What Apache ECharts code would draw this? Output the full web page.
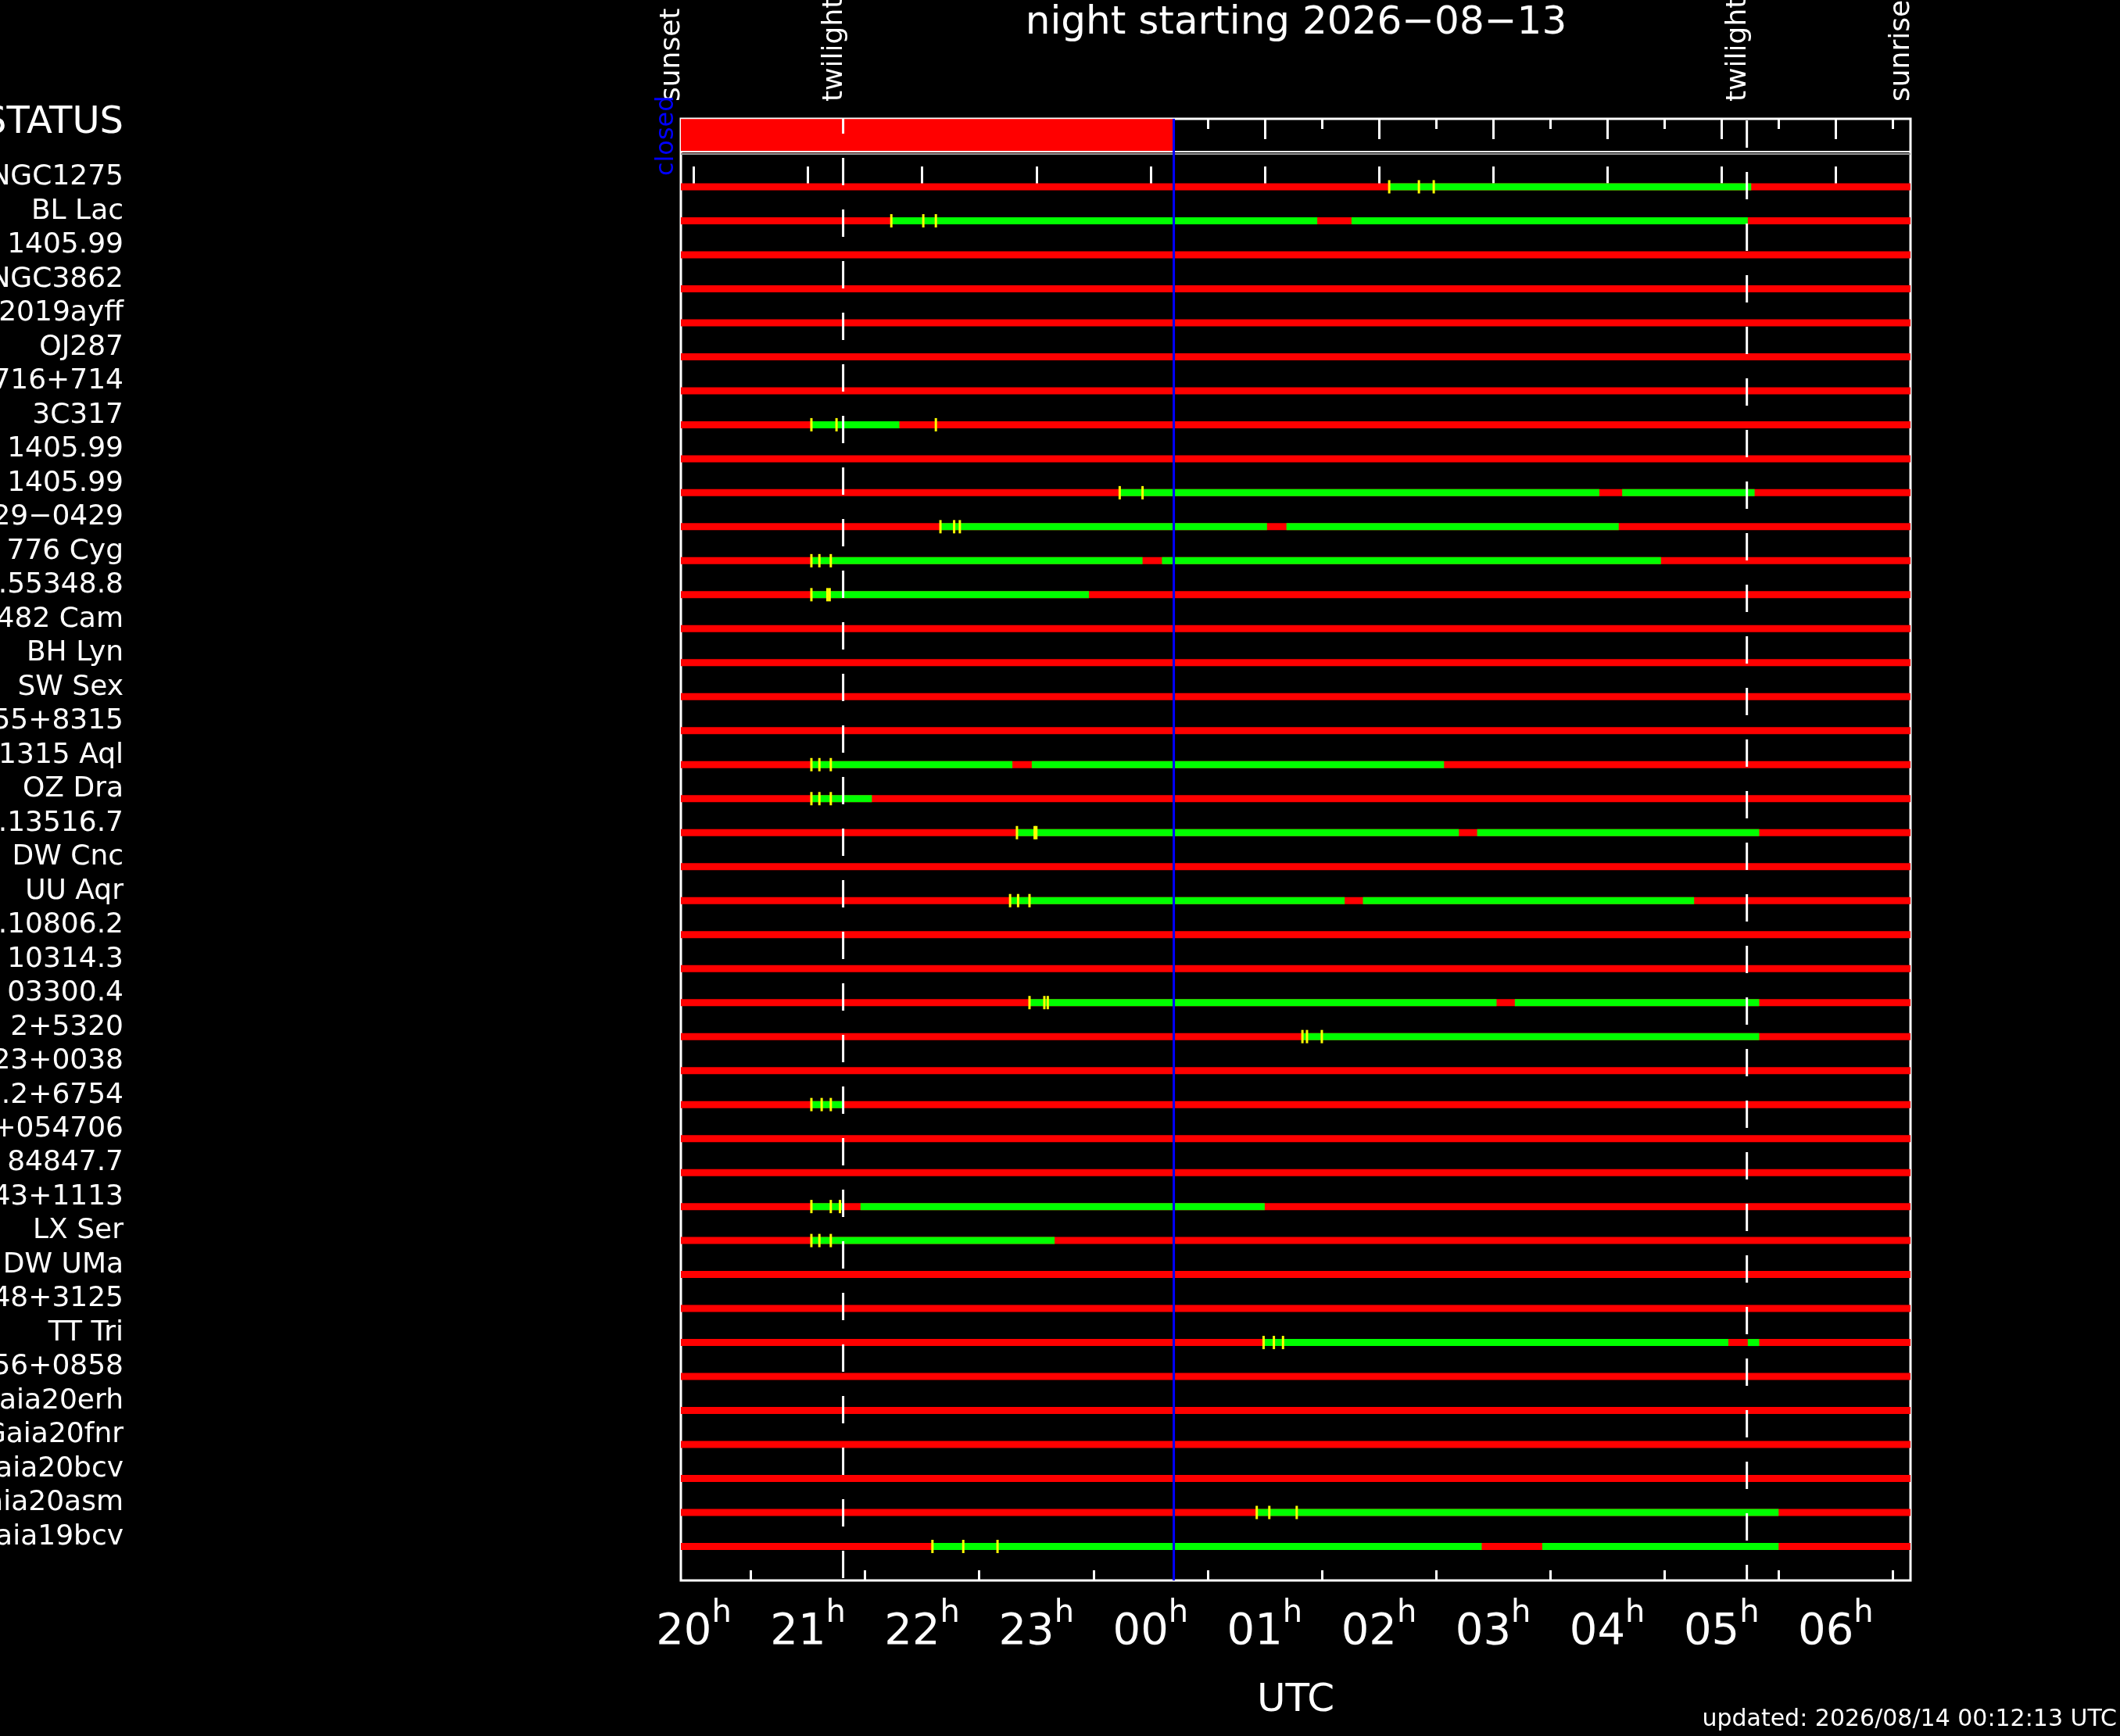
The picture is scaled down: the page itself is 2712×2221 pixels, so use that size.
<!DOCTYPE html>
<html>
<head>
<meta charset="utf-8">
<title>night starting 2026-08-13</title>
<script src="https://cdn.jsdelivr.net/npm/echarts@6/dist/echarts.min.js"></script>
<style>
  html, body { margin: 0; padding: 0; background: #000; }
  #main { width: 2712px; height: 2221px; }
</style>
</head>
<body>
<div id="main"></div>
<script>
var FONT = 'DejaVu Sans';

// targets, top to bottom (names cut by the left edge as in the original)
var targets = [
  'NGC1275', 'BL Lac', '1405.99', 'NGC3862', '2019ayff', 'OJ287', '716+714',
  '3C317', '1405.99', '1405.99', '29\u22120429', '776 Cyg', '.55348.8', '482 Cam',
  'BH Lyn', 'SW Sex', '55+8315', '1315 Aql', 'OZ Dra', '.13516.7', 'DW Cnc',
  'UU Aqr', '.10806.2', '10314.3', '03300.4', '2+5320', '23+0038', '.2+6754',
  '+054706', '84847.7', '43+1113', 'LX Ser', 'DW UMa', '48+3125', 'TT Tri',
  '56+0858', 'Gaia20erh', 'Gaia20fnr', 'Gaia20bcv', 'Gaia20asm', 'Gaia19bcv'
];

// observable windows (green), hours UTC, after midnight written as 24+
var visible = [
  [[26.09, 29.26]],
  [[21.73, 25.46], [25.76, 29.23]],
  [], [], [], [], [],
  [[21.03, 21.80]],
  [],
  [[23.73, 27.93], [28.13, 29.29]],
  [[22.16, 25.02], [25.19, 28.10]],
  [[21.03, 23.93], [24.10, 28.47]],
  [[21.03, 23.46]],
  [], [], [], [],
  [[21.03, 22.79], [22.96, 26.57]],
  [[21.03, 21.56]],
  [[22.83, 26.70], [26.86, 29.33]],
  [],
  [[22.77, 25.70], [25.86, 28.76]],
  [], [],
  [[22.94, 27.03], [27.19, 29.33]],
  [[25.33, 29.33]],
  [],
  [[21.03, 21.31]],
  [], [],
  [[21.03, 21.31], [21.46, 25.00]],
  [[21.03, 23.16]],
  [], [],
  [[24.99, 29.06], [29.23, 29.33]],
  [], [], [], [],
  [[24.93, 29.50]],
  [[22.09, 26.90], [27.43, 29.50]]
];

// yellow marks
var marks = [
  [26.09, 26.35, 26.48],
  [21.73, 22.01, 22.12],
  [], [], [], [], [],
  [21.03, 21.25, 22.12],
  [],
  [23.73, 23.93],
  [22.16, 22.28, 22.33],
  [21.03, 21.10, 21.20],
  [21.03, 21.17, 21.19],
  [], [], [], [],
  [21.03, 21.10, 21.20],
  [21.03, 21.10, 21.20],
  [22.83, 22.985, 23.00],
  [],
  [22.77, 22.84, 22.94],
  [], [],
  [22.94, 23.07, 23.10],
  [25.33, 25.37, 25.50],
  [],
  [21.03, 21.12, 21.20],
  [], [],
  [21.03, 21.20, 21.28],
  [21.03, 21.10, 21.20],
  [], [],
  [24.99, 25.08, 25.16],
  [], [], [], [],
  [24.93, 25.04, 25.28],
  [22.09, 22.36, 22.66]
];

var hourTicks = [20, 21, 22, 23, 24, 25, 26, 27, 28, 29, 30];
var hourLabels = ['20', '21', '22', '23', '00', '01', '02', '03', '04', '05', '06'];
var halfTicks = [20.5, 21.5, 22.5, 23.5, 24.5, 25.5, 26.5, 27.5, 28.5, 29.5, 30.5];

var sunset = 19.887, eveTwilight = 21.308, mornTwilight = 29.222, sunrise = 30.655;
var now = 24 + 12 / 60 + 13 / 3600;
var eventNames = ['sunset', 'twilight', 'twilight', 'sunrise'];
var eventTimes = [sunset, eveTwilight, mornTwilight, sunrise];
var statusText = ['closed'];
var statusStart = [sunset];
var statusEnd = [now];

var chart = echarts.init(document.getElementById('main'));

function barItem(params, api) {
  var a = api.coord([api.value(0), api.value(2)]);
  var b = api.coord([api.value(1), api.value(2)]);
  var h = api.value(3);
  return {
    type: 'rect',
    shape: { x: a[0], y: a[1] - h / 2, width: b[0] - a[0], height: h },
    style: { fill: api.visual('color') }
  };
}

var nightData = targets.map(function (t, i) { return [sunset, sunrise, i, 9]; });
var greenData = [];
visible.forEach(function (segs, i) {
  segs.forEach(function (s) { greenData.push([s[0], s[1], i, 9]); });
});
var markData = [];
marks.forEach(function (ms, i) {
  ms.forEach(function (m) { markData.push([m, i]); });
});

function xAxisBase(pos, ticks, len) {
  return {
    type: 'value', min: sunset, max: sunrise, position: pos,
    axisLine: { show: false },
    splitLine: { show: false },
    axisTick: { show: true, inside: true, length: len, customValues: ticks,
      lineStyle: { color: '#fff', width: 3 } },
    axisLabel: { show: false }
  };
}

var bottomHours = xAxisBase('bottom', hourTicks, 26);
bottomHours.axisLabel = {
  show: true,
  customValues: hourTicks,
  margin: 23,
  formatter: function (v) {
    var i = hourTicks.indexOf(v);
    return i < 0 ? '' : '{d|' + hourLabels[i] + '}{h|h}';
  },
  rich: {
    d: { fontSize: 56, lineHeight: 71, verticalAlign: 'bottom', color: '#fff', fontFamily: FONT },
    h: { fontSize: 40, lineHeight: 20, verticalAlign: 'top', color: '#fff', fontFamily: FONT }
  }
};
bottomHours.name = 'UTC';
bottomHours.nameLocation = 'middle';
bottomHours.nameGap = 129;
bottomHours.nameTextStyle = { color: '#fff', fontSize: 50, fontFamily: FONT };

var option = {
  backgroundColor: '#000',
  animation: false,
  title: [
    {
      text: 'night starting 2026\u221208\u221213',
      left: 1658, top: 5, textAlign: 'center', padding: 0,
      textStyle: { color: '#fff', fontSize: 50, fontWeight: 'normal', fontFamily: FONT }
    },
    {
      text: 'updated: 2026/08/14 00:12:13 UTC',
      right: 4, bottom: 6, padding: 0,
      textStyle: { color: '#fff', fontSize: 30, fontWeight: 'normal', fontFamily: FONT }
    }
  ],
  grid: {
    left: 871, right: 268, top: 152, bottom: 199,
    outerBoundsMode: 'none', containLabel: false,
    show: true, borderColor: '#fff', borderWidth: 3, backgroundColor: 'transparent'
  },
  xAxis: [
    bottomHours,
    xAxisBase('bottom', halfTicks, 13),
    xAxisBase('top', hourTicks, 26),
    xAxisBase('top', halfTicks, 13)
  ],
  yAxis: {
    type: 'value', min: -2, max: 41, inverse: true, interval: 0.5,
    axisLine: { show: false },
    axisTick: { show: false },
    splitLine: { show: false },
    axisLabel: {
      margin: 713,
      align: 'right',
      verticalAlign: 'bottom',
      formatter: function (v) {
        if (v === -1.5) return '{s|STATUS}';
        if (v >= 0 && v === Math.round(v) && targets[v] !== undefined) return '{r|' + targets[v] + '}';
        return '';
      },
      rich: {
        r: { fontSize: 36, lineHeight: 24, color: '#fff', fontFamily: FONT },
        s: { fontSize: 48, lineHeight: 33, color: '#fff', fontFamily: FONT }
      }
    }
  },
  series: [
    {
      name: 'status', type: 'custom', z: 1, clip: false,
      itemStyle: { color: '#ff0000' },
      data: statusStart.map(function (s, i) { return [s, statusEnd[i], -1.5, 43]; }),
      renderItem: barItem
    },
    {
      name: 'night', type: 'custom', z: 2,
      itemStyle: { color: '#ff0000' },
      data: nightData,
      renderItem: barItem
    },
    {
      name: 'visible', type: 'custom', z: 3,
      itemStyle: { color: '#00ff00' },
      data: greenData,
      renderItem: barItem
    },
    {
      name: 'marks', type: 'custom', z: 4,
      data: markData,
      renderItem: function (params, api) {
        var p = api.coord([api.value(0), api.value(1)]);
        return {
          type: 'line',
          shape: { x1: p[0], y1: p[1] - 8.5, x2: p[0], y2: p[1] + 8.5 },
          style: { stroke: '#ffff00', lineWidth: 3 }
        };
      }
    },
    {
      name: 'separator', type: 'custom', z: 5, clip: false,
      data: [[sunset, sunrise, -1]],
      renderItem: function (params, api) {
        var a = api.coord([api.value(0), api.value(2)]);
        var b = api.coord([api.value(1), api.value(2)]);
        return {
          type: 'group',
          children: [
            { type: 'line', shape: { x1: a[0], y1: a[1] - 1.5, x2: b[0], y2: b[1] - 1.5 },
              style: { stroke: '#fff', lineWidth: 2 } },
            { type: 'line', shape: { x1: a[0], y1: a[1] + 1.5, x2: b[0], y2: b[1] + 1.5 },
              style: { stroke: '#9a9a9a', lineWidth: 2 } }
          ]
        };
      }
    },
    {
      name: 'evening twilight', type: 'line', z: 6, symbol: 'none', silent: true,
      data: [[eveTwilight, -2], [eveTwilight, 41]],
      lineStyle: { color: '#fff', width: 3, type: [35, 31], dashOffset: 16 }
    },
    {
      name: 'morning twilight', type: 'line', z: 6, symbol: 'none', silent: true,
      data: [[mornTwilight, -2], [mornTwilight, 41]],
      lineStyle: { color: '#fff', width: 3, type: [35, 31], dashOffset: 64 }
    },
    {
      name: 'now', type: 'line', z: 7, symbol: 'none', silent: true,
      data: [[now, -2], [now, 41]],
      lineStyle: { color: '#0000ff', width: 3 }
    },
    {
      name: 'events', type: 'custom', z: 8, clip: false,
      data: eventTimes.map(function (t, i) { return [t, -2, i]; }),
      renderItem: function (params, api) {
        var p = api.coord([api.value(0), api.value(1)]);
        return {
          type: 'text', x: p[0] + 7, y: p[1] - 22, rotation: Math.PI / 2,
          style: { text: eventNames[api.value(2)], fill: '#fff', fontSize: 36, fontFamily: FONT,
            align: 'left', verticalAlign: 'bottom' }
        };
      }
    },
    {
      name: 'status text', type: 'custom', z: 8, clip: false,
      data: statusStart.map(function (s, i) { return [s, -1.5, i]; }),
      renderItem: function (params, api) {
        var p = api.coord([api.value(0), api.value(1)]);
        return {
          type: 'text', x: p[0] - 2, y: p[1], rotation: Math.PI / 2,
          style: { text: statusText[api.value(2)], fill: '#0000ff', fontSize: 32, fontFamily: FONT,
            align: 'center', verticalAlign: 'bottom' }
        };
      }
    }
  ]
};

chart.setOption(option);
</script>
</body>
</html>
